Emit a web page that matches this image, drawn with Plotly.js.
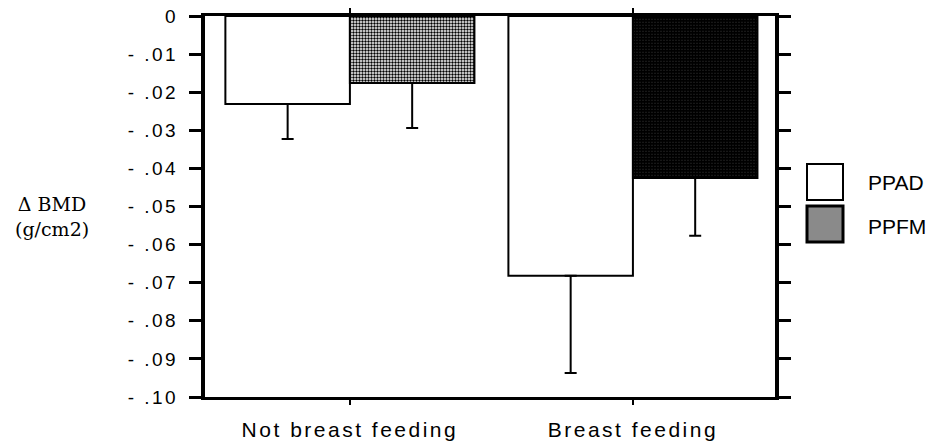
<!DOCTYPE html>
<html>
<head>
<meta charset="utf-8">
<script src="https://cdn.plot.ly/plotly-3.0.1.min.js"></script>
<style>
html,body{margin:0;padding:0;background:#fff;}
#chart{width:932px;height:446px;}
#chart .xtick text{letter-spacing:2.5px;}
#chart .ytick text{letter-spacing:2.5px;}
</style>
</head>
<body>
<div id="chart"></div>
<script>
var categories = ["Not breast feeding", "Breast feeding"];
var ppadValues = [-0.0231, -0.0682];
var ppadErrors = [0.0092, 0.0255];
var ppfmValues = [-0.0176, -0.0425];
var ppfmErrors = [0.0118, 0.0152];
var yTickVals = [0, -0.01, -0.02, -0.03, -0.04, -0.05, -0.06, -0.07, -0.08, -0.09, -0.10];
var yTickText = ["0", "- .01", "- .02", "- .03", "- .04", "- .05", "- .06", "- .07", "- .08", "- .09", "- .10"];
var seriesNames = ["PPAD", "PPFM"];

var font = "Liberation Sans, Arial, sans-serif";

var traces = [
  {
    type: "bar", name: seriesNames[0], x: categories, y: ppadValues,
    marker: {color: "#ffffff", line: {color: "#000", width: 2}},
    error_y: {type: "data", symmetric: false, array: [0, 0], arrayminus: ppadErrors, color: "#000", thickness: 2, width: 6},
    showlegend: false
  },
  {
    type: "bar", name: seriesNames[1], x: categories, y: ppfmValues,
    marker: {color: "#ffffff", line: {color: "#000", width: 2},
      pattern: {shape: ".", fgcolor: "#000", bgcolor: "#ffffff", size: 3, solidity: [0.5, 0.92], fillmode: "replace"}},
    error_y: {type: "data", symmetric: false, array: [0, 0], arrayminus: ppfmErrors, color: "#000", thickness: 2, width: 6},
    showlegend: false
  }
];

var layout = {
  width: 932, height: 446,
  margin: {l: 205, r: 157, t: 16, b: 49},
  paper_bgcolor: "#fff", plot_bgcolor: "#fff",
  barmode: "group", bargap: 0.12, bargroupgap: 0,
  showlegend: false,
  font: {family: font, color: "#000"},
  xaxis: {
    type: "category", range: [-0.512, 1.502],
    showline: true, linecolor: "#000", linewidth: 3, mirror: "ticks",
    ticks: "outside", ticklen: 5, tickwidth: 2, tickcolor: "#000",
    showgrid: false, zeroline: false,
    tickfont: {size: 21, family: font}, ticklabelstandoff: 7
  },
  yaxis: {
    range: [-0.1, 0], tickvals: yTickVals, ticktext: yTickText,
    showline: true, linecolor: "#000", linewidth: 4, mirror: "ticks",
    ticks: "outside", ticklen: 12, tickwidth: 3, tickcolor: "#000",
    showgrid: false, zeroline: false,
    tickfont: {size: 19, family: font}, ticklabelstandoff: 7
  },
  annotations: [
    {xref: "paper", yref: "paper", x: -0.268, y: 0.475, xanchor: "center", yanchor: "middle",
     text: "Δ BMD<br>(g/cm2)", showarrow: false, align: "center",
     font: {family: "DejaVu Serif, serif", size: 19, color: "#000"}},
    {xref: "paper", yref: "paper", x: 1.16, y: 1 - (182 - 16) / 381, xanchor: "left", yanchor: "middle",
     text: seriesNames[0], showarrow: false, font: {family: font, size: 21, color: "#000"}},
    {xref: "paper", yref: "paper", x: 1.16, y: 1 - (226 - 16) / 381, xanchor: "left", yanchor: "middle",
     text: seriesNames[1], showarrow: false, font: {family: font, size: 21, color: "#000"}}
  ],
  shapes: [
    {type: "rect", xref: "paper", yref: "paper", x0: (807 - 205) / 570, x1: (843 - 205) / 570,
     y0: 1 - (200 - 16) / 381, y1: 1 - (164 - 16) / 381, fillcolor: "#fff", line: {color: "#000", width: 2}},
    {type: "rect", xref: "paper", yref: "paper", x0: (807 - 205) / 570, x1: (843 - 205) / 570,
     y0: 1 - (242 - 16) / 381, y1: 1 - (206 - 16) / 381, fillcolor: "#8a8a8a", line: {color: "#000", width: 3}}
  ]
};

Plotly.newPlot("chart", traces, layout, {staticPlot: true, displayModeBar: false});
</script>
</body>
</html>
